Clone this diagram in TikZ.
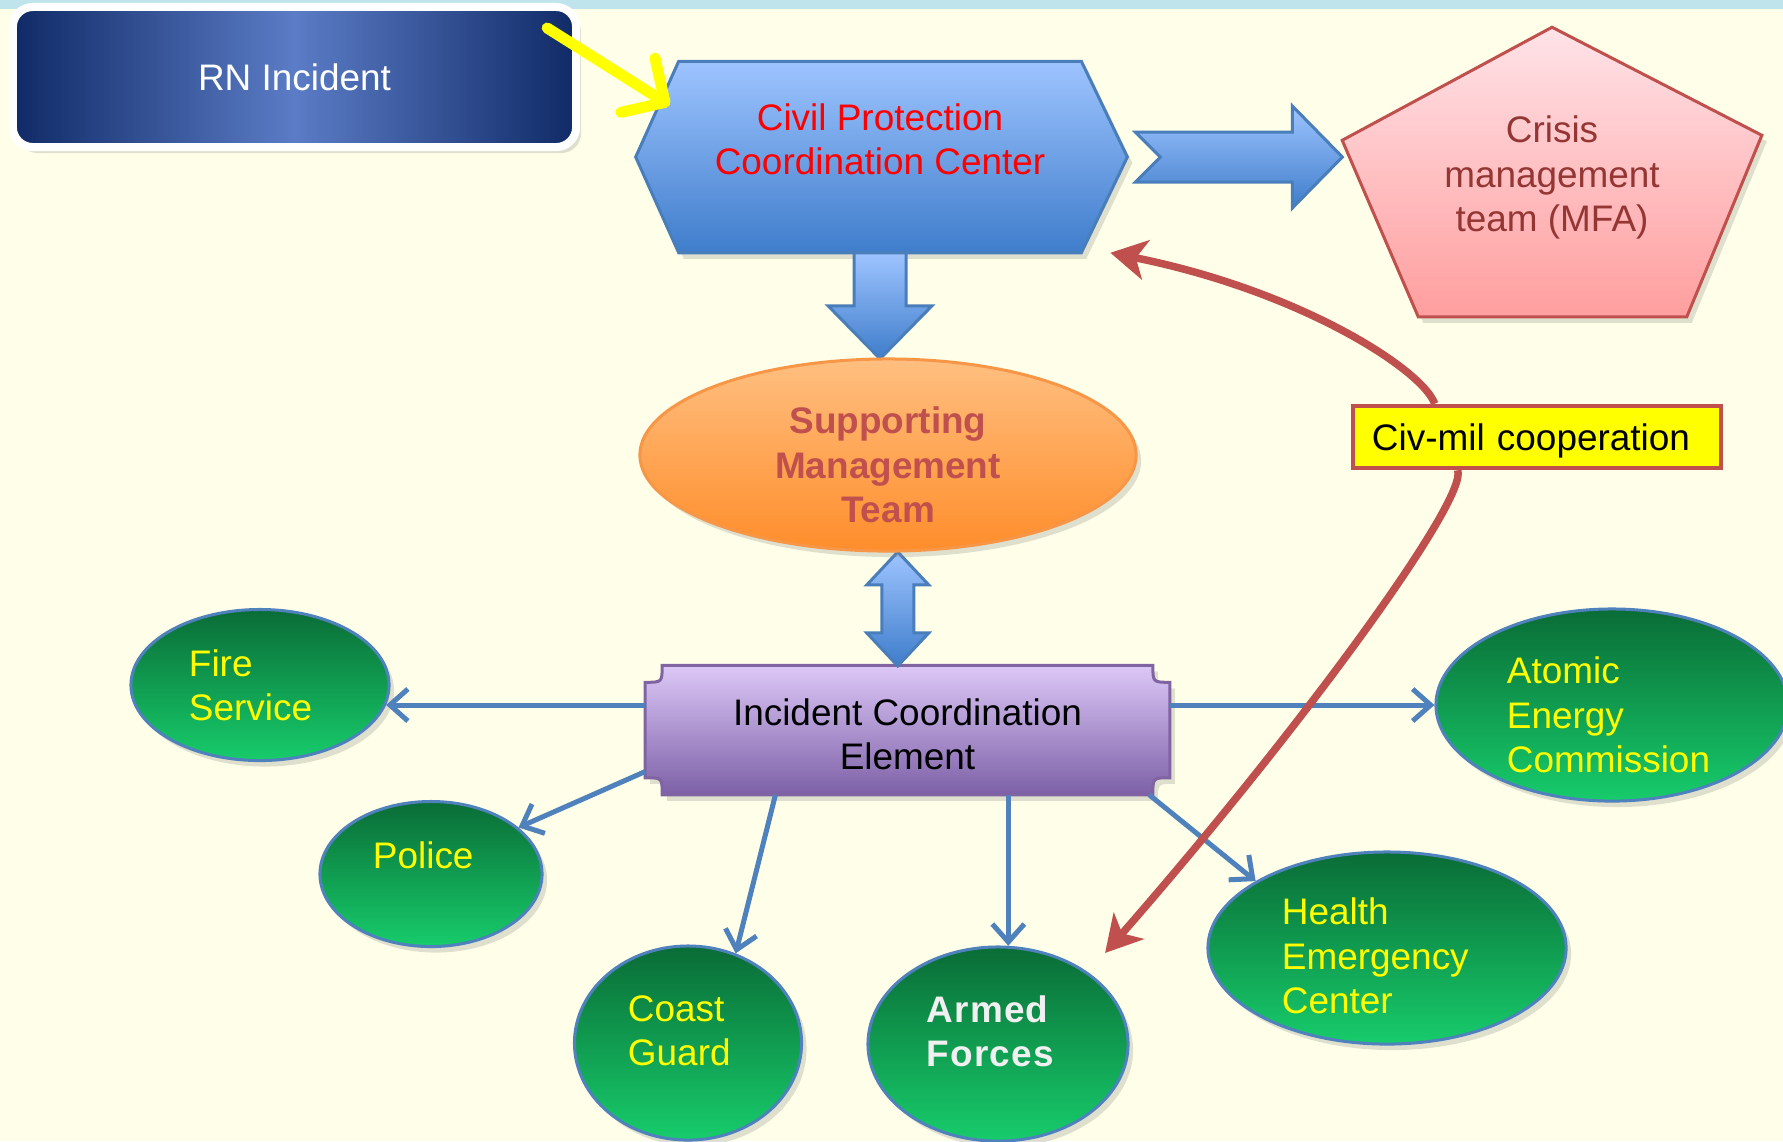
\documentclass[tikz,border=0pt]{standalone}
\usepackage{fontspec}
\setmainfont{Liberation Sans}
\usepackage{xcolor}
\usepackage{tikz}
\usetikzlibrary{shapes.geometric,arrows.meta,positioning,calc,backgrounds,shadows}
\newcommand{\chartfont}{\fontsize{10.5pt}{12.6pt}\selectfont}
% lift a block of lines without changing its size
\newcommand{\nudgel}[3]{\raisebox{#1}[\height][\depth]{\parbox{#2}{\raggedright #3}}}
\newcommand{\nudgec}[3]{\raisebox{#1}[\height][\depth]{\parbox{#2}{\centering #3}}}

\definecolor{bgcream}{HTML}{FFFFE9}
\definecolor{topband}{HTML}{BFE4EC}
\definecolor{rnnavy}{HTML}{102A66}
\definecolor{rnmid}{HTML}{5B7CC6}
\definecolor{hextop}{HTML}{9EC4FF}
\definecolor{hexbot}{HTML}{3F7DCB}
\definecolor{hexline}{HTML}{4A7EBB}
\definecolor{pinktop}{HTML}{FFE3E8}
\definecolor{pinkbot}{HTML}{FF9E9E}
\definecolor{cmttext}{HTML}{943634}
\definecolor{civred}{HTML}{C0504D}
\definecolor{orangetop}{HTML}{FFBF80}
\definecolor{orangebot}{HTML}{FF8D2B}
\definecolor{orangeline}{HTML}{F79646}
\definecolor{purpletop}{HTML}{DCC8F7}
\definecolor{purplebot}{HTML}{7D60A7}
\definecolor{purpleline}{HTML}{8064A2}
\definecolor{greentop}{HTML}{0A6C36}
\definecolor{greenbot}{HTML}{17CC6B}
\definecolor{linkblue}{HTML}{4F81BD}
\definecolor{flashyellow}{HTML}{FFFF00}

\begin{document}
\begin{tikzpicture}[
    x=0.01cm, y=-0.01cm,
    every node/.style={font=\chartfont},
    softshadow/.style={drop shadow={opacity=0.25, shadow xshift=0.5mm, shadow yshift=-0.6mm}},
    incidentbox/.style={rectangle, rounded corners=2mm,
                minimum width=5.63cm, minimum height=1.40cm,
                draw=white, line width=0.8mm, left color=rnnavy,
                right color=rnnavy, middle color=rnmid, text=white, softshadow},
    hexcore/.style={rectangle, minimum width=4.01cm, minimum height=1.9cm, inner sep=0pt},
    hexfill/.style={draw=hexline, line width=0.3mm, top color=hextop, bottom color=hexbot, softshadow},
    pentbox/.style={rectangle, minimum width=4.18cm, minimum height=2.88cm,
                inner sep=0pt, text=cmttext},
    pentfill/.style={draw=civred, line width=0.3mm, top color=pinktop, bottom color=pinkbot, softshadow},
    smtbox/.style={ellipse, minimum width=4.96cm, minimum height=1.92cm, inner sep=0pt,
                draw=orangeline, line width=0.3mm, top color=orangetop, bottom color=orangebot,
                text=civred, font=\chartfont\bfseries, softshadow},
    icebox/.style={rectangle, minimum width=5.23cm, minimum height=1.28cm, inner sep=0pt},
    plaquefill/.style={draw=purpleline, line width=0.3mm, top color=purpletop, bottom color=purplebot, softshadow},
    blob/.style={ellipse, inner sep=0pt, draw=linkblue, line width=0.3mm,
                top color=greentop, bottom color=greenbot, text=flashyellow, softshadow},
    blockarrow/.style={draw=hexline, line width=0.3mm, top color=hextop, bottom color=hexbot},
    civbox/.style={rectangle, draw=civred, line width=0.45mm, fill=flashyellow,
                minimum height=0.62cm, text width=3.3cm, inner xsep=1.9mm, align=left},
    arrow/.style={draw=linkblue, line width=0.5mm, -{Straight Barb[length=1.8mm,width=3.2mm]}},
    civarrow/.style={draw=civred, line width=0.75mm, -{Stealth[length=3.6mm,width=4mm,inset=1mm]}},
    flash/.style={draw=flashyellow, line width=1.1mm, line cap=round,
                -{Straight Barb[length=3.2mm,width=6.4mm,round]}}
]
\useasboundingbox (0,0) rectangle (1783,1141);

% main boxes
\node[incidentbox] (rn) at (294.5,77) {RN Incident};
\node[hexcore] (cpcc) at (880,157) {};
\node[align=center, text=red] (cpcctext) at ([yshift=1.8mm]cpcc.center) {Civil Protection\\Coordination Center};
\node[pentbox] (cmt) at (1552,172) {\nudgec{-0.55mm}{2.4cm}{Crisis\\management\\team (MFA)}};
\node[smtbox] (smt) at (888,455) {\nudgec{-1mm}{2.5cm}{Supporting\\Management\\Team}};
\node[icebox] (ice) at (907.5,730) {\nudgec{-0.45mm}{3.8cm}{Incident Coordination\\Element}};

% services
\node[blob, minimum width=2.58cm, minimum height=1.51cm] (fire) at (260,685) {\nudgel{0mm}{1.42cm}{Fire\\Service}};
\node[blob, minimum width=2.22cm, minimum height=1.45cm] (police) at (431,874) {\nudgel{1.9mm}{1.16cm}{Police}};
\node[blob, minimum width=2.27cm, minimum height=1.94cm] (coast) at (688,1043) {\nudgel{1.25mm}{1.20cm}{Coast\\Guard}};
\node[blob, minimum width=2.60cm, minimum height=1.94cm,
      text=white!94!black, font=\chartfont\bfseries\addfontfeatures{LetterSpace=3}] (armed) at (998,1044) {\nudgel{1.3mm}{1.42cm}{Armed\\Forces}};
\node[blob, minimum width=3.58cm, minimum height=1.92cm] (health) at (1387,948) {\nudgel{-0.8mm}{2.10cm}{Health\\Emergency\\Center}};
\node[blob, minimum width=3.52cm, minimum height=1.92cm] (atomic) at (1612,705) {\nudgel{-1mm}{2.10cm}{Atomic\\Energy\\Commission}};

\node[civbox] (civ) at (1537,437) {\raisebox{-0.35mm}[\height][\depth]{Civ-mil cooperation}};

% shapes behind the text
\begin{scope}[on background layer]
  \fill[bgcream] (0,0) rectangle (1783,1141);
  \fill[topband] (0,0) rectangle (1783,9);
  \shade[hexfill] ([xshift=-4.3mm]cpcc.west) -- (cpcc.north west) -- (cpcc.north east)
      -- ([xshift=4.6mm]cpcc.east) -- (cpcc.south east) -- (cpcc.south west) -- cycle;
  \shade[pentfill] (cmt.north) -- ([yshift=-10.8mm]cmt.north east) -- ([xshift=-7.5mm]cmt.south east)
      -- ([xshift=7.6mm]cmt.south west) -- ([yshift=-11.3mm]cmt.north west) -- cycle;
  \shade[plaquefill] ([xshift=1.7mm]ice.north west) -- ([xshift=-1.7mm]ice.north east)
      .. controls ([xshift=-1.7mm,yshift=-1.7mm]ice.north east) .. ([yshift=-1.7mm]ice.north east)
      -- ([yshift=1.7mm]ice.south east)
      .. controls ([xshift=-1.7mm,yshift=1.7mm]ice.south east) .. ([xshift=-1.7mm]ice.south east)
      -- ([xshift=1.7mm]ice.south west)
      .. controls ([xshift=1.7mm,yshift=1.7mm]ice.south west) .. ([yshift=1.7mm]ice.south west)
      -- ([yshift=-1.7mm]ice.north west)
      .. controls ([xshift=1.7mm,yshift=-1.7mm]ice.north west) .. ([xshift=1.7mm]ice.north west) -- cycle;
  % block arrows
  \begin{scope}[shift={(cpcc.south)}]
    \shade[blockarrow] (-26,0) -- (26,0) -- (26,53) -- (52,53) -- (0,106) -- (-52,53) -- (-26,53) -- cycle;
  \end{scope}
  \begin{scope}[shift={([xshift=5.4mm]cpcc.east)}]
    \shade[blockarrow] (0,-25) -- (157,-25) -- (157,-51) -- (207,0) -- (157,51) -- (157,25)
        -- (0,25) -- (25,0) -- cycle;
  \end{scope}
  \begin{scope}[shift={($(smt.south)!0.5!(ice.north)$)}]
    \shade[blockarrow] (0,-57) -- (31,-24) -- (16,-24) -- (16,24) -- (31,24) -- (0,57)
        -- (-31,24) -- (-16,24) -- (-16,-24) -- (-31,-24) -- cycle;
  \end{scope}
\end{scope}

% links to the services
\draw[arrow] (fire.-9 -| ice.west) -- (fire.-9);
\draw[arrow] (ice.189) -- (police.28);
\draw[arrow] ([xshift=-13.2mm]ice.south) -- (coast.62);
\draw[arrow] (ice.south -| armed.84) -- (armed.84);
\draw[arrow] (ice.-15.5) -- (health.153);
\draw[arrow] (atomic.west -| ice.east) -- (atomic.west);

% civ-mil cooperation
\draw[civarrow] ([xshift=8.4mm]civ.north west) .. controls +(-12,-34) and +(190,38) .. ([xshift=2.9mm]cpcc.south east);
\draw[civarrow] ([xshift=10.7mm]civ.south west) .. controls +(10,30) and +(195,-223) .. ([xshift=10.7mm,yshift=9.1mm]armed.center);

\draw[flash] ([xshift=-3.3mm,yshift=-2.5mm]rn.north east) -- ([xshift=-0.9mm,yshift=-4.4mm]cpcc.north west);
\end{tikzpicture}
\end{document}
